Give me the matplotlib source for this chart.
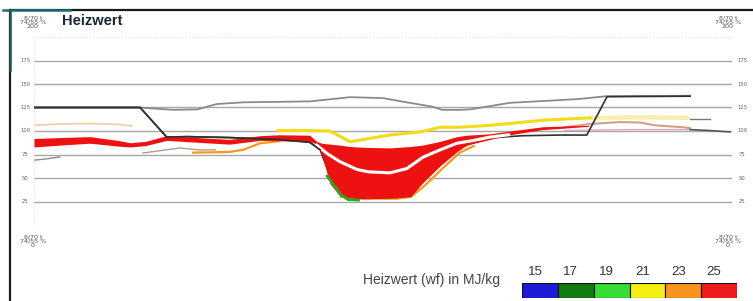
import matplotlib
matplotlib.use("Agg")
import matplotlib.pyplot as plt
import numpy as np

W, H = 753, 301

# ---------------- data (x = position along profile, 0..100) ----------------
gray_x = [0, 5, 10, 15, 16, 20, 23.4, 26.2, 30, 35, 39.5, 45.3, 50, 53, 57, 58.5, 61, 62.5, 68.2, 72, 78, 82, 94]
gray_y = [125, 125, 125, 125, 124.5, 122.5, 123, 128.7, 130.5, 131, 131.5, 136, 135, 131, 126, 122.5, 122.5, 123, 130, 131.5, 134, 137, 137.5]

black_x = [0, 15.2, 19, 22, 28, 35, 39.5, 41, 42.4, 43.8, 45, 48, 52, 54, 55.7, 58.2, 60.6, 63, 66, 70, 75.4, 79.2, 82.1, 94]
black_y = [125, 125, 93.6, 94, 93, 91, 88, 80, 52, 36, 30, 29, 29.5, 31, 46, 67, 81, 88, 93, 95, 95.7, 95.7, 136.5, 137]

red_x = [0, 3.7, 8, 12, 13.8, 16, 19, 23.4, 28, 32.4, 35, 39.5, 40.5, 41.2, 42.4, 43.8, 45.3, 46.3, 48, 51,
         53.9, 55.7, 58.2, 60.6, 62, 65.3, 68.2, 72.9, 76.8, 79.5]
red_top = [92, 93, 94, 90, 87.5, 89, 95, 93, 91, 95, 96, 95.5, 89, 87, 86, 85, 83.5, 83, 82.5, 82,
           83.5, 85, 89, 94, 95.5, 97, 100, 104.5, 105.5, 106]
red_bot = [83, 85, 87, 84, 83, 84.5, 90, 88, 86, 90, 89.5, 89, 86, 76, 44, 31, 29, 28, 28, 28.5,
           30, 45, 63, 78, 85, 91, 96, 101.5, 103.5, 105]

white_x = [40.5, 42, 43.8, 46.3, 48, 51, 53.4, 55.7, 58.2, 60.6, 63, 65.3, 68]
white_y = [85, 76, 67.5, 59, 56.5, 55.5, 60, 72, 80, 87, 90, 93.5, 96]

yellow_x = [35, 39.5, 42.4, 45.3, 48, 51, 55.3, 58.2, 61, 65.3, 68.2, 72.9, 79.7]
yellow_y = [100.5, 100.5, 100, 88.6, 92, 95.7, 99, 104, 104, 106, 108, 111.5, 114]
paleyel_x = [79.7, 86.8, 93.6]
paleyel_y = [114, 114.5, 114]
peach_x = [0, 4, 8, 12, 14]
peach_y = [106, 107.5, 108, 107, 105.5]

orange_x = [22.8, 28, 30, 32.4, 35, np.nan, 44, 47, 52, 54, 56, 58.5, 61, 63]
orange_y = [77, 77.7, 80, 87, 89, np.nan, 30, 28, 28, 30, 42, 60, 77, 84]

green_x = [42, 43, 44, 45, 46.5]
green_y = [52, 42, 32, 27, 26.5]

taupe_x = [15.6, 20.9, 23.8, 26]
taupe_y = [76.6, 81.9, 79.8, 80]
lowgray_x = [0, 2, 3.7]
lowgray_y = [69, 70.5, 72.5]

brown_x = [76, 79.7, 84, 86.8, 89, 93, 94]
brown_y = [104, 107.5, 109.5, 109, 106, 104, 103]
pink_x = [76, 80, 86, 94]
pink_y = [100.5, 101, 101.5, 101.5]
tail_x = [94, 96.8, 99.7]
tail_y = [101.5, 100.5, 99]
stub_x = [94, 96.8]
stub_y = [112.5, 112.5]

grid_vals = [25, 50, 75, 100, 125, 150, 175]
legend_vals = ["15", "17", "19", "21", "23", "25"]
legend_cols = ["#1c1cd8", "#147a14", "#35dd35", "#f4ef10", "#f7941d", "#ee1c1c"]

# ---------------- figure ----------------
fig = plt.figure(figsize=(W / 100, H / 100), dpi=100)
fig.patch.set_facecolor("white")

def fx(px):
    return px / W

def fy(py):
    return 1 - py / H

ax = fig.add_axes([fx(34), fy(225), fx(732) - fx(34), fy(37) - fy(225)])
ax.set_xlim(0, 100)
ax.set_ylim(0, 200)
for s in ax.spines.values():
    s.set_visible(False)
ax.set_xticks([])
ax.set_yticks([])

for g in grid_vals:
    ax.axhline(g, color="#a8a8a8", lw=1.0, zorder=1)
for g in (0, 200):
    ax.axhline(g, color="#d8d8d8", lw=0.7, ls=(0, (1, 2)), zorder=1)
for g in (0, 100):
    ax.axvline(g, color="#e0e0e0", lw=0.7, ls=(0, (1, 2)), zorder=1)

# lines
ax.plot(peach_x, peach_y, color="#f2cfa8", lw=1.3, zorder=2)
ax.plot(lowgray_x, lowgray_y, color="#8c8c8c", lw=1.0, zorder=2)
ax.plot(taupe_x, taupe_y, color="#b59a90", lw=1.0, zorder=2)
ax.plot(gray_x, gray_y, color="#8a8a8a", lw=1.3, zorder=3)
ax.plot(paleyel_x, paleyel_y, color="#f6f0a8", lw=3, zorder=2)
ax.plot(yellow_x, yellow_y, color="#f2dc1a", lw=2.2, zorder=3)
ax.plot(pink_x, pink_y, color="#e8a0c8", lw=1.0, zorder=2)
ax.plot(brown_x, brown_y, color="#d2a088", lw=1.5, zorder=3)
ax.plot(tail_x, tail_y, color="#555555", lw=1.2, zorder=3)
ax.plot(stub_x, stub_y, color="#777777", lw=1.0, zorder=3)
ax.plot(orange_x, orange_y, color="#f39a1e", lw=1.6, zorder=3)

ax.plot(black_x, black_y, color="#2e332c", lw=1.2, zorder=3.5)
ax.fill_between(red_x, red_bot, red_top, color="#ee1111", lw=0, zorder=4)
ax.plot(white_x, white_y, color="white", lw=2.2, zorder=5)
ax.plot(green_x, green_y, color="#22aa22", lw=2.0, zorder=5)
# dark edge of the left flank of the dip
ax.plot(black_x[:8], black_y[:8], color="#2e332c", lw=1.2, zorder=6)

# tick labels both sides
for g in grid_vals:
    yy = ax.transData.transform((0, g))[1] / H
    fig.text(fx(25), yy, str(g), fontsize=3.8, color="#666666", ha="center", va="center")
    fig.text(fx(742), yy, str(g), fontsize=3.8, color="#666666", ha="center", va="center")

corner = "8/70 t\n74/55 %\n{}"
for cx, cy, v in ((33, 22, 200), (33, 241, 0), (728, 22, 200), (728, 241, 0)):
    fig.text(fx(cx), fy(cy), corner.format(v), fontsize=4.6, color="#555555",
             ha="center", va="center", linespacing=0.85)

fig.text(fx(62), fy(21), "Heizwert", fontsize=10.5, fontweight="bold", color="#1b2633",
         family="Liberation Sans", ha="left", va="center")

# frame lines
fig.add_artist(plt.Line2D([fx(10), fx(753)], [fy(10), fy(10)], color="#1a1a1a", lw=1.6))
fig.add_artist(plt.Line2D([fx(10), fx(10)], [fy(10), fy(301)], color="#1a1a1a", lw=1.6))
fig.add_artist(plt.Line2D([fx(3), fx(70)], [fy(10), fy(10)], color="#1d6b78", lw=1.8))
fig.add_artist(plt.Line2D([fx(10), fx(10)], [fy(10), fy(70)], color="#1d5560", lw=1.8))

# colour legend
lax = fig.add_axes([fx(522), fy(298), fx(737) - fx(522), fy(283) - fy(298)])
lax.bar(range(len(legend_cols)), [1] * len(legend_cols), width=1.0, color=legend_cols,
        edgecolor="#111111", lw=0.8)
lax.set_xlim(-0.5, len(legend_cols) - 0.5)
lax.set_ylim(0, 1)
lax.axis("off")
for i, lab in enumerate(legend_vals):
    cx = lax.transData.transform((i, 0))[0] / W - fx(5)
    fig.text(cx, fy(272), lab, fontsize=9.5, color="#333333", family="Liberation Sans",
             ha="center", va="center")
fig.text(fx(431), fy(280), "Heizwert (wf) in MJ/kg", fontsize=10, color="#444444",
         family="Liberation Sans", ha="center", va="center")

fig.savefig("out.png", dpi=100)
